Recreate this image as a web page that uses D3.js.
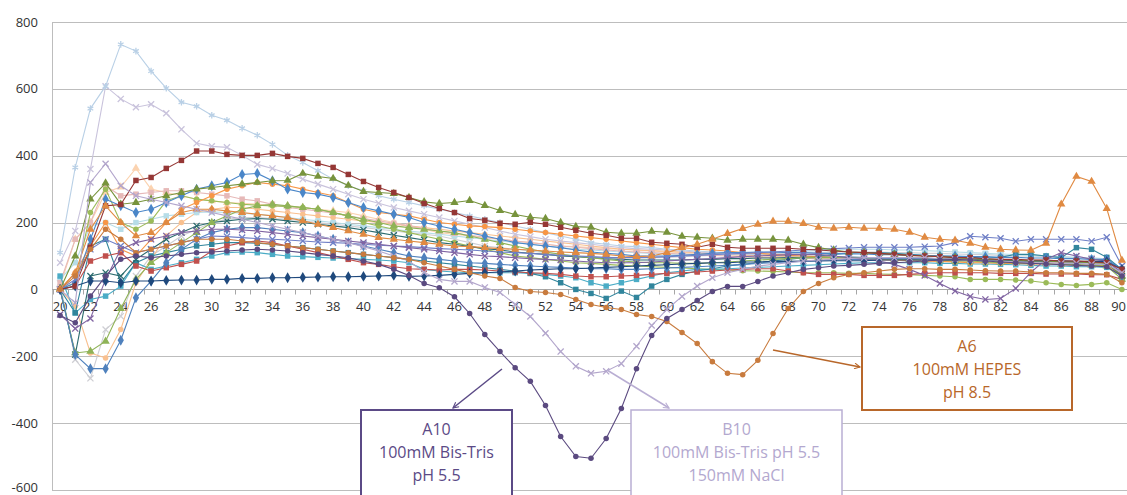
<!DOCTYPE html>
<html>
<head>
<meta charset="utf-8">
<script src="https://cdn.jsdelivr.net/npm/d3@7"></script>
<style>
  body { margin: 0; background: #fff; }
  svg { display: block; font-family: "Open Sans", sans-serif; }
</style>
</head>
<body>
<script>
// Temperature categories (deg C)
const temps = [20,21,22,23,24,25,26,27,28,29,30,31,32,33,34,35,36,37,38,39,
  40,41,42,43,44,45,46,47,48,49,50,51,52,53,54,55,56,57,58,59,
  60,61,62,63,64,65,66,67,68,69,70,71,72,73,74,75,76,77,78,79,
  80,81,82,83,84,85,86,87,88,89,90];

const yTicks = [-600, -400, -200, 0, 200, 400, 600, 800];
const xLabels = temps.filter(t => t % 2 === 0);

// Series values, 20..90
const paleGrayDip = [20,-210,-266,-120,-80,40,100,130,160,180,
  200,210,215,215,212,210,205,200,195,190, 185,180,175,170,165,160,150,140,130,125,
  120,115,110,105,100,98,96,95,95,95, 96,98,100,102,104,105,106,108,108,110,
  110,112,112,112,112,110,110,108,108,106, 105,104,102,100,100,98,96,95,94,92, 60];
const palePeach = [10,150,200,290,306,362,300,290,280,270,
  265,260,258,255,252,250,245,240,235,230, 220,210,200,190,180,170,165,160,155,150,
  145,140,135,130,128,125,122,120,118,115, 112,110,108,106,104,102,100,100,98,98,
  96,96,95,95,94,94,93,93,92,92, 90,90,90,88,88,88,86,86,86,84, 50];
const paleOrangeDip = [0,-50,-190,-205,-120,20,90,160,200,230,
  240,245,245,240,235,230,225,220,215,210, 205,200,195,190,185,180,175,170,165,160,
  155,150,145,140,135,130,125,120,118,116, 114,112,110,108,106,104,102,100,98,96,
  94,92,90,90,88,88,86,86,84,84, 82,82,80,80,78,78,76,76,74,74, 40];
const paleBlue = [30,80,190,200,180,200,210,220,225,230,
  232,230,228,225,220,215,210,205,200,195, 190,185,180,175,170,165,160,155,150,145,
  140,135,130,125,120,118,115,112,110,108, 106,105,104,104,105,106,108,110,112,114,
  116,118,120,120,120,118,118,116,114,112, 110,108,106,104,102,100,98,96,94,92, 50];
const lavenderPeak = [80,175,360,608,570,545,554,527,479,437,
  428,425,401,374,362,347,330,315,300,285, 270,258,245,235,225,215,205,195,185,175,
  165,158,150,145,140,135,130,125,122,120, 118,115,112,110,108,106,104,102,100,100,
  98,98,96,96,94,94,92,92,90,90, 88,88,86,86,84,84,82,82,80,80, 45];
const lightBluePeak = [110,365,541,608,733,713,653,602,560,548,
  521,506,482,461,434,401,380,355,330,310, 295,280,270,260,250,240,230,220,210,200,
  190,180,170,160,150,140,135,130,128,125, 120,118,115,112,110,108,105,105,102,100,
  100,98,98,95,95,92,92,90,90,88, 88,85,85,82,82,80,80,78,78,75, 50];
const mauve = [20,150,200,310,280,285,290,295,295,290,
  285,280,270,265,255,245,240,235,228,220, 212,205,198,190,182,175,168,162,156,150,
  145,140,135,130,126,122,118,115,112,110, 108,106,104,102,100,98,96,95,94,93,
  92,91,90,90,89,88,88,87,86,86, 85,84,84,83,82,82,81,80,80,79, 45];
const greenCircles = [0,20,230,300,200,180,205,265,280,270,
  265,260,255,252,250,248,245,240,230,220, 200,190,180,170,160,150,140,130,120,110,
  100,95,90,85,80,78,75,72,70,68, 66,64,62,60,58,56,55,54,52,50,
  50,50,48,48,46,45,44,42,40,38, 30,30,30,28,25,20,15,12,15,20, 0];
const aquaSquares = [40,-70,-30,-20,10,80,60,70,80,90,
  100,110,112,110,105,100,98,96,94,92, 90,88,85,80,60,55,52,50,50,50,
  50,48,45,40,35,20,10,20,30,40, 50,55,60,60,62,64,66,68,70,72,
  74,76,78,80,80,80,80,80,78,78, 76,76,75,74,72,70,70,68,68,66, 40];
const tealSquares = [0,-70,130,150,20,80,100,110,120,130,
  135,140,140,138,135,130,125,120,115,110, 105,100,95,90,85,80,75,70,65,60,
  55,48,38,20,0,-12,-27,-5,-24,10, 30,45,55,62,70,75,80,85,90,95,
  100,105,108,110,110,108,105,102,100,98, 96,94,96,105,105,100,95,125,120,96, 60];
const redSquares = [0,10,85,100,110,70,55,65,75,85,
  115,130,140,145,140,130,120,110,100,90, 80,75,68,62,60,58,60,60,58,55,
  52,50,48,45,40,38,38,40,42,45, 48,50,52,55,58,60,62,62,55,50,
  45,45,45,42,42,42,45,48,50,50, 50,50,48,48,48,46,46,46,44,44, 30];
const orangeMid = [0,50,130,200,120,100,150,200,240,260,
  280,300,310,320,315,310,300,290,280,260, 240,230,225,220,210,200,195,190,188,185,
  180,175,170,165,160,155,150,145,140,135, 130,125,120,118,115,110,108,105,102,100,
  98,96,94,92,90,88,86,85,84,82, 80,80,78,78,76,76,74,74,72,72, 45];
const darkTealDip = [0,-195,40,50,40,90,120,150,170,190,
  200,205,210,212,210,205,200,195,190,185, 178,170,162,155,148,140,135,128,122,118,
  112,108,105,100,98,95,92,90,88,88, 88,88,90,90,92,92,94,94,95,95,
  96,96,96,95,95,94,94,92,92,90, 90,88,88,86,86,84,84,82,82,80, 40];
const greenDip = [0,-190,-185,-155,-57,30,80,110,140,170,
  200,220,240,250,255,250,245,240,230,220, 210,200,190,185,180,175,170,160,150,140,
  130,120,112,105,100,95,90,85,82,80, 80,78,78,80,82,85,88,90,92,95,
  95,95,95,92,92,90,90,88,88,85, 85,82,80,80,78,78,75,75,72,70, 30];
const blueDip = [0,-195,-237,-237,-152,-25,25,80,120,150,
  170,180,185,185,180,175,170,160,150,140, 130,120,110,100,95,90,85,80,78,75,
  72,70,68,66,64,62,62,60,60,62, 64,66,68,70,72,75,78,80,82,84,
  86,88,90,90,92,92,92,92,90,90, 90,88,88,86,86,84,84,82,82,80, 40];
const blueUpper = [0,20,150,270,250,230,240,260,280,300,
  310,320,344,347,325,300,290,285,275,260, 245,235,225,215,200,190,180,170,160,150,
  140,135,130,125,118,112,108,105,100,100, 100,102,105,108,110,110,112,112,110,110,
  108,108,106,106,104,104,102,102,100,100, 98,98,96,96,94,94,92,92,90,90, 60];
const bluePurpleX = [0,30,120,150,130,110,120,130,140,150,
  160,158,155,152,150,148,145,142,140,138, 135,132,130,128,125,122,120,118,115,112,
  110,108,105,102,100,98,95,95,95,96, 98,100,102,104,106,108,110,112,115,118,
  120,122,124,126,126,126,126,128,130,140, 159,156,153,144,150,150,150,150,144,156, 70];
const purpleDipX = [-75,-117,-87,30,120,140,150,160,170,175,
  180,180,178,175,170,165,160,155,150,145, 140,135,130,125,120,115,110,105,100,98,
  95,92,90,88,85,82,80,80,80,82, 85,88,90,92,95,98,100,102,104,105,
  105,100,95,90,85,75,60,42,18,-5, -21,-30,-27,3,51,90,110,100,90,85, 50];
const navyFlat = [0,10,25,25,20,25,25,27,28,28,
  30,30,33,33,35,35,36,37,38,38, 39,40,42,39,40,42,45,48,50,52,
  55,58,60,62,62,64,66,68,70,72, 74,76,78,80,80,82,82,84,84,85,
  85,86,86,86,88,88,88,88,88,88, 88,88,86,86,86,86,86,84,84,84, 60];
const oliveTri = [0,100,270,318,255,260,270,280,290,300,
  305,310,315,320,325,326,347,338,332,311, 293,290,287,275,262,257,260,266,251,236,
  224,216,212,200,188,186,171,168,168,174, 171,159,156,153,147,150,150,150,147,135,
  125,118,112,110,108,105,102,100,98,95, 92,90,88,88,85,85,82,82,80,78, 40];
const darkRedSq = [0,10,126,250,254,326,335,362,386,414,
  414,404,401,401,407,398,392,377,365,344, 323,305,290,275,257,242,230,212,207,198,
  195,201,195,186,177,168,162,153,153,141, 138,135,126,135,126,123,123,123,123,120,
  118,115,112,110,108,105,102,100,98,95, 95,92,90,90,88,88,85,85,82,80, 60];
const orangeTri = [0,50,180,250,200,160,170,200,230,240,
  240,235,230,225,220,215,205,195,185,175, 165,155,150,145,140,135,130,128,125,122,
  120,118,115,112,110,108,105,100,98,100, 110,125,135,150,167,182,195,204,204,197,
  186,183,186,183,183,180,171,156,150,147, 138,126,120,118,117,138,255,338,323,242, 87];
const b10 = [0,-40,320,376,310,280,270,260,250,240,
  230,220,210,200,190,180,170,160,150,140, 128,115,100,85,51,30,24,24,6,-9,
  -45,-81,-131,-186,-230,-251,-245,-222,-170,-108, -60,-21,10,35,50,60,70,75,80,85,
  88,90,92,95,95,95,95,95,92,90, 88,85,85,82,80,80,78,78,75,75, 50];
const a6 = [0,40,120,180,150,110,120,130,140,150,
  150,150,145,140,135,130,125,120,115,110, 105,100,95,90,80,70,60,50,40,33,
  6,-6,-9,-15,-30,-45,-54,-60,-75,-81, -96,-129,-162,-216,-251,-255,-212,-132,-57,-6,
  18,35,45,50,55,60,62,62,60,60, 58,56,55,55,52,50,50,48,48,45, 20];
const a10 = [-78,-100,-20,40,90,100,95,100,105,110,
  112,115,118,120,118,115,110,105,100,95, 85,75,60,42,18,5,-22,-72,-135,-186,
  -234,-275,-347,-440,-500,-505,-446,-356,-237,-138, -87,-60,-33,-6,9,9,24,40,50,60,
  65,70,72,75,78,80,82,85,88,90, 88,85,82,80,78,76,74,72,70,68, 40];

// drawing order and look (later ones on top)
const series = [
  { values: paleGrayDip, color: '#cfcfd4', marker: 'x' },
  { values: palePeach, color: '#fbd3b0', marker: 'triangle' },
  { values: paleOrangeDip, color: '#f9c08f', marker: 'circle' },
  { values: paleBlue, color: '#b7dde8', marker: 'square' },
  { values: lavenderPeak, color: '#c9c3dc', marker: 'x' },
  { values: lightBluePeak, color: '#b9d0e6', marker: 'star' },
  { values: mauve, color: '#e6b9b8', marker: 'square' },
  { values: greenCircles, color: '#9bbb59', marker: 'circle' },
  { values: aquaSquares, color: '#4bacc6', marker: 'square' },
  { values: tealSquares, color: '#31859c', marker: 'square' },
  { values: redSquares, color: '#c0504d', marker: 'square' },
  { values: orangeMid, color: '#f79646', marker: 'circle' },
  { values: darkTealDip, color: '#2b6b6e', marker: 'x' },
  { values: greenDip, color: '#8fb357', marker: 'triangle' },
  { values: blueDip, color: '#4f81bd', marker: 'diamond' },
  { values: blueUpper, color: '#4a86c8', marker: 'diamond' },
  { values: bluePurpleX, color: '#6f7fc6', marker: 'x' },
  { values: purpleDipX, color: '#8064a2', marker: 'x' },
  { values: navyFlat, color: '#1f497d', marker: 'diamond' },
  { values: oliveTri, color: '#77933c', marker: 'triangle' },
  { values: darkRedSq, color: '#953735', marker: 'square' },
  { values: orangeTri, color: '#e08a42', marker: 'triangle' },
  { values: b10, color: '#b3a6cc', marker: 'x' },
  { values: a6, color: '#c87b3e', marker: 'circle' },
  { values: a10, color: '#5b4a80', marker: 'circle' }
];

const w = 1127;
const h = 495;
const margin = { left: 52, top: 22, bottom: 490, right: 1129.5 };

const svg = d3.select('body').append('svg')
  .attr('width', w)
  .attr('height', h);

const x = d3.scalePoint()
  .domain(temps)
  .range([margin.left + 0.5, margin.right])
  .padding(0.5);

const y = d3.scaleLinear()
  .domain([-600, 800])
  .range([margin.bottom, margin.top]);

// Gridlines
svg.append('g')
  .selectAll('line')
  .data(yTicks)
  .enter()
  .append('line')
  .attr('x1', margin.left)
  .attr('x2', w)
  .attr('y1', d => Math.round(y(d)) + 0.5)
  .attr('y2', d => Math.round(y(d)) + 0.5)
  .attr('stroke', '#bdbdbd')
  .attr('stroke-width', 1);

// Y axis line and labels
svg.append('line')
  .attr('x1', margin.left + 0.5).attr('x2', margin.left + 0.5)
  .attr('y1', margin.top).attr('y2', margin.bottom)
  .attr('stroke', '#bdbdbd');

svg.append('g')
  .selectAll('text')
  .data(yTicks)
  .enter()
  .append('text')
  .attr('x', 38)
  .attr('y', d => Math.min(y(d) + 4.5, 492))
  .attr('text-anchor', 'end')
  .attr('font-size', 13)
  .attr('fill', '#333')
  .text(d => d);

// X axis at zero with ticks between categories
const y0 = Math.round(y(0)) + 0.5;
const xAxis = svg.append('g');
xAxis.append('line')
  .attr('x1', margin.left).attr('x2', w)
  .attr('y1', y0).attr('y2', y0)
  .attr('stroke', '#a6a6a6');

const step = x.step();
xAxis.selectAll('line.tick')
  .data(temps)
  .enter()
  .append('line')
  .attr('class', 'tick')
  .attr('x1', d => Math.round(x(d) - step / 2) + 0.5)
  .attr('x2', d => Math.round(x(d) - step / 2) + 0.5)
  .attr('y1', y0)
  .attr('y2', y0 + 5)
  .attr('stroke', '#a6a6a6');

// last label would run past the right edge, so it is pulled in
const lastLabel = xLabels[xLabels.length - 1];
xAxis.selectAll('text')
  .data(xLabels)
  .enter()
  .append('text')
  .attr('x', d => d === lastLabel ? w - 1 : x(d))
  .attr('y', y0 + 21)
  .attr('text-anchor', d => d === lastLabel ? 'end' : 'middle')
  .attr('font-size', 13)
  .attr('fill', '#333')
  .text(d => d);

// Series lines and markers
const line = d3.line()
  .x((d, i) => x(temps[i]))
  .y(d => y(d));

const symbolType = {
  diamond: d3.symbolDiamond,
  square: d3.symbolSquare,
  triangle: d3.symbolTriangle,
  circle: d3.symbolCircle,
  x: d3.symbolTimes,
  star: d3.symbolAsterisk
};
const symbolSize = { diamond: 34, square: 30, triangle: 30, circle: 24, x: 26, star: 30 };
const stroked = m => m === 'x' || m === 'star';

const groups = svg.append('g')
  .selectAll('g')
  .data(series)
  .enter()
  .append('g');

groups.append('path')
  .attr('d', d => line(d.values))
  .attr('fill', 'none')
  .attr('stroke', d => d.color)
  .attr('stroke-width', 1.1);

groups.each(function(s) {
  const sym = d3.symbol().type(symbolType[s.marker]).size(symbolSize[s.marker]);
  d3.select(this)
    .selectAll('path.m')
    .data(s.values)
    .enter()
    .append('path')
    .attr('class', 'm')
    .attr('transform', (d, i) => 'translate(' + x(temps[i]) + ',' + y(d) + ')')
    .attr('d', sym)
    .attr('fill', stroked(s.marker) ? 'none' : s.color)
    .attr('stroke', stroked(s.marker) ? s.color : 'none')
    .attr('stroke-width', 1.3);
});

// Annotation boxes with arrows
const defs = svg.append('defs');
const notes = [
  { lines: ['A10', '100mM Bis-Tris', 'pH 5.5'], color: '#5b4a86', textColor: '#5b4a86',
    box: [361, 410, 151, 90], width: 2, arrow: [502, 369, 453, 408] },
  { lines: ['B10', '100mM Bis-Tris pH 5.5', '150mM NaCl'], color: '#b9aed3', textColor: '#b3a8cf',
    box: [631, 410, 211, 90], width: 1.5, arrow: [607, 370, 669, 408] },
  { lines: ['A6', '100mM HEPES', 'pH 8.5'], color: '#b8672a', textColor: '#b8672a',
    box: [862, 327, 210, 83], width: 2, arrow: [773, 350, 860, 367] }
];

notes.forEach((n, k) => {
  defs.append('marker')
    .attr('id', 'arr' + k)
    .attr('viewBox', '0 0 10 10')
    .attr('refX', 9).attr('refY', 5)
    .attr('markerWidth', 7).attr('markerHeight', 7)
    .attr('markerUnits', 'userSpaceOnUse')
    .attr('orient', 'auto')
    .append('path')
    .attr('d', 'M1,1 L9,5 L1,9')
    .attr('fill', 'none')
    .attr('stroke', n.color)
    .attr('stroke-width', 1.6);

  const a = n.arrow;
  svg.append('line')
    .attr('x1', a[0]).attr('y1', a[1])
    .attr('x2', a[2]).attr('y2', a[3])
    .attr('stroke', n.color)
    .attr('stroke-width', 1.5)
    .attr('marker-end', 'url(#arr' + k + ')');

  const b = n.box;
  svg.append('rect')
    .attr('x', b[0]).attr('y', b[1])
    .attr('width', b[2]).attr('height', b[3])
    .attr('fill', '#fff')
    .attr('stroke', n.color)
    .attr('stroke-width', n.width);

  svg.append('g')
    .selectAll('text')
    .data(n.lines)
    .enter()
    .append('text')
    .attr('x', b[0] + b[2] / 2)
    .attr('y', (d, i) => b[1] + 25 + i * 23)
    .attr('text-anchor', 'middle')
    .attr('font-size', 16)
    .attr('fill', n.textColor)
    .text(d => d);
});
</script>
</body>
</html>
